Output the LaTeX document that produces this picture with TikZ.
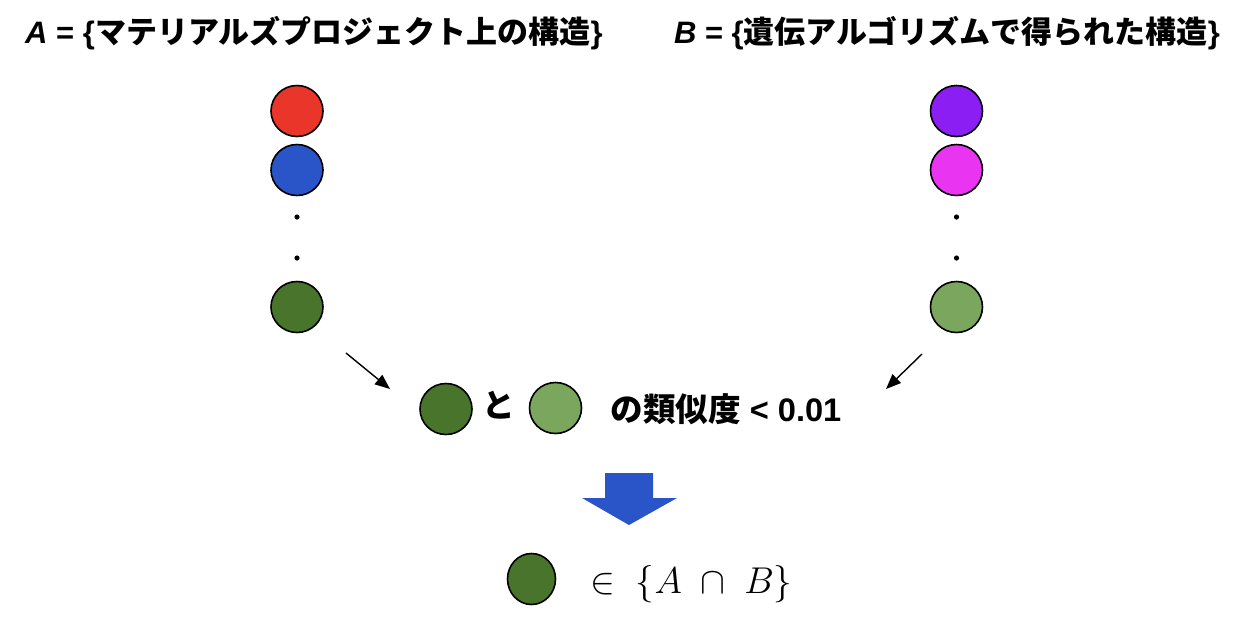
\documentclass[tikz,border=0pt]{standalone}
\usepackage{graphicx}
\usepackage{fontspec}
\setmainfont{Liberation Sans}
\newfontfamily\cjk{Noto Sans CJK JP}
\usetikzlibrary{shapes.geometric,arrows.meta}
\definecolor{cred}{HTML}{E9352A}
\definecolor{cblue}{HTML}{2A55C9}
\definecolor{cpurple}{HTML}{8B1EF2}
\definecolor{cmagenta}{HTML}{E935F2}
\definecolor{cdgreen}{HTML}{48742C}
\definecolor{clgreen}{HTML}{7AA65E}
\tikzset{
  ball/.style={ellipse, draw=black, line width=0.8pt, minimum width=26pt, minimum height=25.5pt, inner sep=0pt},
  smallball/.style={ball, minimum width=24pt, minimum height=25.5pt},
  dotmark/.style={circle, fill=black, minimum size=2.6pt, inner sep=0pt},
  titletext/.style={font=\fontsize{15.5pt}{18pt}\selectfont\bfseries, inner sep=0pt},
  midtext/.style={font=\fontsize{16.3pt}{19pt}\selectfont\bfseries, inner sep=0pt},
  ptr/.style={line width=0.7pt, -{Triangle[length=7.5pt,width=6pt]}},
}
\begin{document}
\begin{tikzpicture}[x=0.5pt,y=-0.5pt]
\useasboundingbox (0,0) rectangle (1248,618);
% titles
\node[titletext] (ta) at (314,33) {\textit{A} = \{{\cjk\bfseries マテリアルズプロジェクト上の構造}\}};
\node[titletext] (tb) at (947,33) {\textit{B} = \{{\cjk\bfseries 遺伝アルゴリズムで得られた構造}\}};
% left column
\node[ball, fill=cred] (a1) at (297,111) {};
\node[ball, fill=cblue] (a2) at (297,170) {};
\node[dotmark] (ad1) at (297,217) {};
\node[dotmark] (ad2) at (297,258) {};
\node[ball, fill=cdgreen] (an) at (297,307) {};
% right column
\node[ball, fill=cpurple] (b1) at (956.5,111) {};
\node[ball, fill=cmagenta] (b2) at (956.5,170) {};
\node[dotmark] (bd1) at (956.5,217) {};
\node[dotmark] (bd2) at (956.5,258) {};
\node[ball, fill=clgreen] (bn) at (956.5,307) {};
% arrows
\coordinate (la1) at (346,353);
\coordinate (la2) at (390,389);
\coordinate (ra1) at (922,354);
\coordinate (ra2) at (886,389);
\draw[ptr] (la1) -- (la2);
\draw[ptr] (ra1) -- (ra2);
% comparison row
\node[ball, fill=cdgreen] (m1) at (446,409) {};
\node[midtext] (to) at (499,405) {\cjk\bfseries と};
\node[ball, fill=clgreen] (m2) at (555.5,408) {};
\node[midtext, anchor=west] (sim) at (610,409) {{\cjk\bfseries の類似度} < 0.01};
% blue arrow
\fill[cblue] (605,473) -- (653,473) -- (653,498) -- (677,498) -- (629,525) -- (582,498) -- (605,498) -- cycle;
% result
\node[smallball, fill=cdgreen] (res) at (531.5,579) {};
\node[inner sep=0pt, anchor=west, font=\LARGE] (set) at (590,584) {\scalebox{1.08}{$\in\ \{A\ \cap\ B\}$}};
\end{tikzpicture}
\end{document}
